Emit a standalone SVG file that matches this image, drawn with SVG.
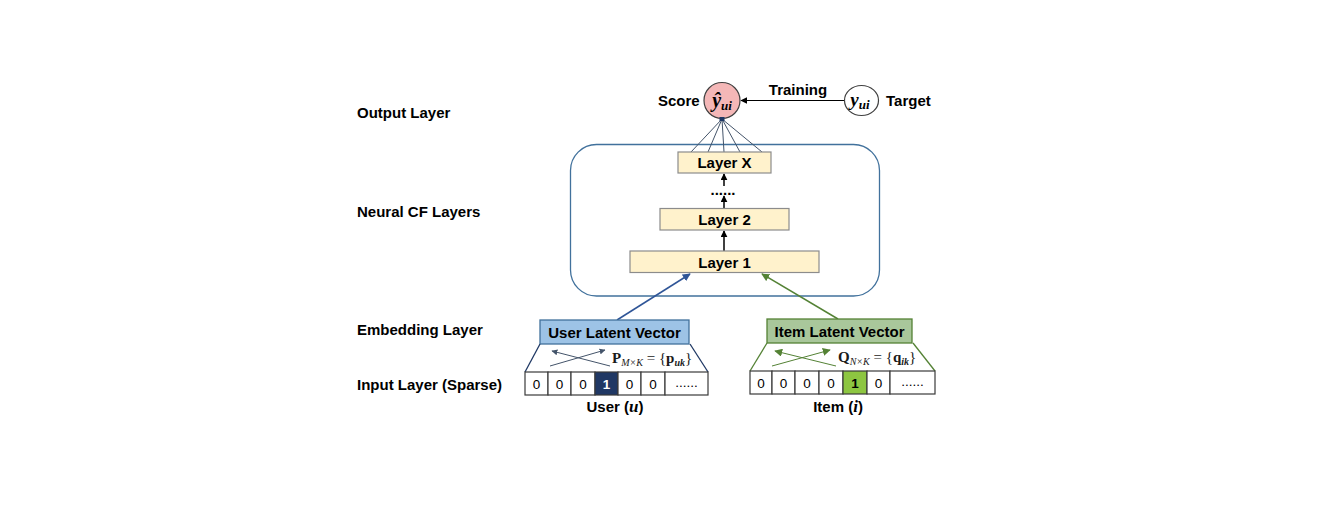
<svg xmlns="http://www.w3.org/2000/svg" width="1324" height="524" viewBox="0 0 1324 524">
<style>
.lbl{font-family:"Liberation Sans",Arial,sans-serif;font-weight:bold;font-size:15px;fill:#000}
.lay{fill:#FFF2CC;stroke:#8C8C8C;stroke-width:1.2}
.cell{fill:#fff;stroke:#3A3A3A;stroke-width:1.2}
.dig{font-family:"Liberation Sans",Arial,sans-serif;font-size:13.5px;text-anchor:middle}
.ser{font-family:"Liberation Serif","Times New Roman",serif;font-weight:bold}
</style>
<defs>
<marker id="ah" viewBox="0 0 10 10" refX="9" refY="5" markerWidth="7" markerHeight="7" orient="auto" markerUnits="userSpaceOnUse"><path d="M0,0 L10,5 L0,10 z" fill="#000"/></marker>
<marker id="ahb" viewBox="0 0 10 10" refX="9" refY="5" markerWidth="8" markerHeight="8" orient="auto" markerUnits="userSpaceOnUse"><path d="M0,0 L10,5 L0,10 z" fill="#2F5597"/></marker>
<marker id="ahg" viewBox="0 0 10 10" refX="9" refY="5" markerWidth="8" markerHeight="8" orient="auto" markerUnits="userSpaceOnUse"><path d="M0,0 L10,5 L0,10 z" fill="#548235"/></marker>
<marker id="ahs" viewBox="0 0 10 10" refX="9" refY="5" markerWidth="6" markerHeight="6" orient="auto" markerUnits="userSpaceOnUse"><path d="M0,0 L10,5 L0,10 z" fill="#44546A"/></marker>
</defs>

<g id="side-labels">
<text class="lbl" x="357" y="118">Output Layer</text>
<text class="lbl" x="357" y="217">Neural CF Layers</text>
<text class="lbl" x="357" y="335">Embedding Layer</text>
<text class="lbl" x="357" y="390">Input Layer (Sparse)</text>
</g>

<g id="ncf-container">
<rect x="570.5" y="144.5" width="309" height="151.5" rx="26" fill="none" stroke="#41719C" stroke-width="1.3"/>
</g>

<g id="connectors">
<g stroke="#44546A" stroke-width="1" fill="none">
<line x1="722" y1="119" x2="691" y2="152"/>
<line x1="722" y1="119" x2="708" y2="152"/>
<line x1="722" y1="119" x2="724" y2="152"/>
<line x1="722" y1="119" x2="740" y2="152"/>
<line x1="722" y1="119" x2="762" y2="152"/>
</g>
<line x1="844" y1="100.5" x2="741" y2="100.5" stroke="#000" stroke-width="1.2" marker-end="url(#ah)"/>
<line x1="724" y1="251" x2="724" y2="231" stroke="#000" stroke-width="1.5" marker-end="url(#ah)"/>
<line x1="724" y1="208" x2="724" y2="196" stroke="#000" stroke-width="1.5" marker-end="url(#ah)"/>
<line x1="724" y1="186" x2="724" y2="174" stroke="#000" stroke-width="1.5" marker-end="url(#ah)"/>
<line x1="617" y1="320" x2="690" y2="274" stroke="#2F5597" stroke-width="1.5" marker-end="url(#ahb)"/>
<line x1="838" y1="319" x2="762" y2="274" stroke="#548235" stroke-width="1.5" marker-end="url(#ahg)"/>
</g>

<g id="score">
<circle cx="722" cy="100.5" r="18" fill="#F4B7B7" stroke="#404040" stroke-width="1.2"/>
<rect x="719.5" y="117" width="5" height="4" fill="#1F3864"/>
<text x="722" y="107" text-anchor="middle" class="ser" font-style="italic" font-size="20">ŷ<tspan font-size="13" dy="3">ui</tspan></text>
<text class="lbl" x="658" y="106">Score</text>
</g>

<g id="target">
<ellipse cx="861.5" cy="100.5" rx="17" ry="15" fill="#fff" stroke="#404040" stroke-width="1.2"/>
<text x="860" y="106" text-anchor="middle" class="ser" font-style="italic" font-size="19">y<tspan font-size="13" dy="3">ui</tspan></text>
<text class="lbl" x="886" y="106" font-size="14.5">Target</text>
</g>

<g id="training-label">
<text class="lbl" x="798" y="95" text-anchor="middle" font-size="17">Training</text>
</g>

<g id="layer-x">
<rect class="lay" x="678" y="152" width="93" height="21"/>
<text class="lbl" x="724.5" y="168" text-anchor="middle">Layer X</text>
</g>
<g id="dots">
<text class="lbl" x="723" y="195" text-anchor="middle" font-size="12">......</text>
</g>
<g id="layer-2">
<rect class="lay" x="660" y="208.5" width="129" height="21.5"/>
<text class="lbl" x="724.5" y="225" text-anchor="middle">Layer 2</text>
</g>
<g id="layer-1">
<rect class="lay" x="630" y="251" width="189" height="21.5"/>
<text class="lbl" x="724.5" y="268" text-anchor="middle">Layer 1</text>
</g>

<g id="user-embedding">
<rect x="540" y="320" width="149" height="24" fill="#9DC3E6" stroke="#41719C" stroke-width="1.3"/>
<text class="lbl" x="614.5" y="338" text-anchor="middle" font-size="15.5">User Latent Vector</text>
<line x1="540" y1="344" x2="525" y2="372" stroke="#1F3864" stroke-width="1.3"/>
<line x1="690" y1="344" x2="708" y2="372" stroke="#1F3864" stroke-width="1.3"/>
<line x1="550" y1="366" x2="605" y2="350" stroke="#44546A" stroke-width="1" marker-end="url(#ahs)"/>
<line x1="610" y1="366" x2="552" y2="351" stroke="#44546A" stroke-width="1" marker-end="url(#ahs)"/>
<text class="ser" x="612" y="363" font-size="15" fill="#1a1a1a">P<tspan font-size="10" font-style="italic" font-weight="normal" dy="3">M×K</tspan><tspan dy="-3" font-weight="normal"> = {</tspan>p<tspan font-size="10" font-style="italic" dy="3">uk</tspan><tspan dy="-3" font-weight="normal">}</tspan></text>
</g>

<g id="user-input">
<rect class="cell" x="525" y="372" width="23" height="23"/>
<rect class="cell" x="548" y="372" width="23" height="23"/>
<rect class="cell" x="571" y="372" width="24" height="23"/>
<rect x="595" y="372" width="23" height="23" fill="#203864" stroke="#3A3A3A" stroke-width="1.2"/>
<rect class="cell" x="618" y="372" width="23" height="23"/>
<rect class="cell" x="641" y="372" width="24" height="23"/>
<rect class="cell" x="665" y="372" width="43" height="23"/>
<text class="dig" x="536.5" y="388.5" fill="#000">0</text>
<text class="dig" x="559.5" y="388.5" fill="#000">0</text>
<text class="dig" x="583" y="388.5" fill="#000">0</text>
<text class="dig" x="606.5" y="388.5" fill="#fff" font-weight="bold">1</text>
<text class="dig" x="629.5" y="388.5" fill="#000">0</text>
<text class="dig" x="653" y="388.5" fill="#000">0</text>
<text class="dig" x="686.5" y="387" fill="#000">......</text>
<text class="lbl" x="615" y="412" text-anchor="middle" font-size="15.5">User (<tspan class="ser" font-style="italic" font-size="17">u</tspan>)</text>
</g>

<g id="item-embedding">
<rect x="767" y="319" width="145" height="24" fill="#A9C79B" stroke="#548235" stroke-width="1.3"/>
<text class="lbl" x="839.5" y="337" text-anchor="middle" font-size="15.5">Item Latent Vector</text>
<line x1="767" y1="343" x2="750" y2="371" stroke="#548235" stroke-width="1.3"/>
<line x1="913" y1="343" x2="935" y2="371" stroke="#548235" stroke-width="1.3"/>
<line x1="772" y1="366" x2="830" y2="350" stroke="#548235" stroke-width="1" marker-end="url(#ahg)"/>
<line x1="836" y1="366" x2="775" y2="351" stroke="#548235" stroke-width="1" marker-end="url(#ahg)"/>
<text class="ser" x="838" y="362" font-size="15" fill="#1a1a1a">Q<tspan font-size="10" font-style="italic" font-weight="normal" dy="3">N×K</tspan><tspan dy="-3" font-weight="normal"> = {</tspan>q<tspan font-size="10" font-style="italic" dy="3">ik</tspan><tspan dy="-3" font-weight="normal">}</tspan></text>
</g>

<g id="item-input">
<rect class="cell" x="750" y="371" width="22" height="23"/>
<rect class="cell" x="772" y="371" width="23" height="23"/>
<rect class="cell" x="795" y="371" width="24" height="23"/>
<rect class="cell" x="819" y="371" width="24" height="23"/>
<rect x="843" y="371" width="24" height="23" fill="#8DC641" stroke="#3A3A3A" stroke-width="1.2"/>
<rect class="cell" x="867" y="371" width="23" height="23"/>
<rect class="cell" x="890" y="371" width="45" height="23"/>
<text class="dig" x="761" y="387.5" fill="#000">0</text>
<text class="dig" x="783.5" y="387.5" fill="#000">0</text>
<text class="dig" x="807" y="387.5" fill="#000">0</text>
<text class="dig" x="831" y="387.5" fill="#000">0</text>
<text class="dig" x="855" y="387.5" fill="#000" font-weight="bold">1</text>
<text class="dig" x="878.5" y="387.5" fill="#000">0</text>
<text class="dig" x="912.5" y="386" fill="#000">......</text>
<text class="lbl" x="838" y="412" text-anchor="middle" font-size="15.5">Item (<tspan class="ser" font-style="italic" font-size="17">i</tspan>)</text>
</g>
</svg>
